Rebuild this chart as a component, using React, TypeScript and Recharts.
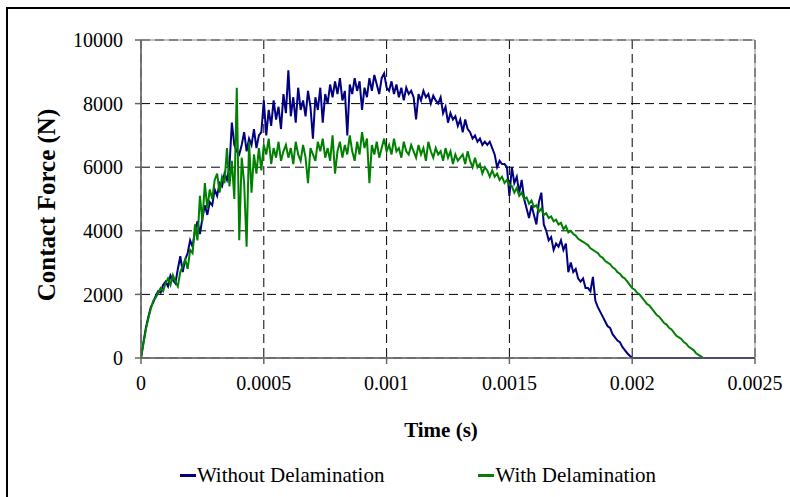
import { LineChart, Line, XAxis, YAxis, CartesianGrid, Legend, ReferenceArea } from "recharts"

const timeStep = 0.00001

const withoutDelamination = [
  0, 500, 950, 1300, 1600, 1750, 1950, 2100, 2050, 2300, 2400,
  2250, 2600, 2450, 2350, 2800, 3200, 2700, 3100, 3300, 3700,
  3500, 4000, 4300, 3900, 4400, 4800, 4500, 4900, 4800, 5300,
  5100, 5500, 5400, 5800, 5600, 6000, 7400, 6700, 6500, 6400,
  6700, 7100, 6500, 6900, 6700, 7200, 6600, 7000, 7100, 8100,
  7000, 7800, 7300, 8100, 7500, 7900, 7200, 8300, 7700, 9050,
  7600, 8200, 7400, 8500, 7800, 8100, 7600, 8400, 7900, 6900,
  8200, 7800, 8500, 7400, 8300, 8000, 8600, 8200, 8700, 8300,
  8800, 8100, 8400, 7000, 8600, 8300, 8800, 8400, 8700, 7800,
  8500, 8200, 8800, 8400, 8900, 8600, 8300, 8800, 8950, 8500,
  8400, 8700, 8300, 8600, 8200, 8500, 8100, 8500, 8300, 8400,
  8200, 7500, 8300, 8100, 8400, 8200, 8300, 8000, 8250, 8100,
  8000, 8200, 7700, 7900, 7400, 7700, 7500, 7600, 7300, 7500,
  7100, 7500, 7200, 7100, 6900, 7000, 6800, 6900, 6700, 6800,
  6700, 6800, 6600, 6400, 6000, 6200, 6100, 6100, 6000, 5100,
  6000, 5500, 5700, 5200, 5600, 5000, 4700, 4400, 4800, 4500,
  4200, 4900, 5200, 4200, 4000, 3700, 3800, 3400, 3600, 3500,
  3700, 3400, 3600, 2700, 3000, 2700, 2800, 2500, 2400, 2500,
  2200, 2200, 2100, 2550, 1800, 1600, 1450, 1300, 1150, 1000,
  950, 750, 650, 550, 500, 350, 250, 150, 70, 0,
]
// blue trace stays on zero to the end of the axis
const tailTime = [0.0025]
const tailForce = [0]

const withDelamination = [
  0, 450, 900, 1250, 1550, 1800, 1900, 2050, 2200, 2100, 2350,
  2500, 2300, 2600, 2400, 2250, 2700, 2900, 3100, 2800, 3400,
  3300, 4200, 3700, 5100, 4300, 5500, 4700, 5300, 5000, 5600,
  5800, 5200, 5700, 5500, 6600, 5400, 6200, 5000, 8500, 3700,
  6300, 5500, 3500, 6800, 5200, 6400, 5800, 6600, 5900, 6700,
  6400, 6900, 6100, 6600, 6300, 6800, 6200, 6500, 6700, 6300,
  6600, 6100, 6800, 6400, 6200, 6700, 6300, 5500, 6600, 6400,
  6200, 6800, 6500, 6900, 6300, 6600, 6200, 7000, 5800, 6500,
  6800, 6300, 6700, 6400, 7000, 6500, 6200, 6800, 6400, 7100,
  6600, 6900, 5500, 6700, 6400, 6800, 6300, 6600, 6900, 6500,
  6700, 6400, 6900, 6500, 6600, 6300, 6800, 6500, 6400, 6700,
  6500, 6300, 6700, 6400, 6600, 6200, 6800, 6500, 6300, 6600,
  6400, 6500, 6200, 6600, 6300, 6500, 6100, 6400, 6200, 6300,
  6400, 6100, 6500, 6200, 6000, 6300, 6000, 6100, 5800, 6000,
  5900, 5700, 5900, 5700, 5800, 5600, 5700, 5500, 5600, 5450,
  5400, 5200, 5350, 5100, 5200, 5000, 5050, 4850, 4950, 4750,
  4800, 4600, 4700, 4500, 4550, 4400, 4450, 4300, 4350, 4200,
  4250, 4050, 4150, 3950, 4000, 3900, 3850, 3750, 3700, 3650,
  3600, 3550, 3450, 3400, 3350, 3300, 3200, 3150, 3050, 3000,
  2950, 2850, 2800, 2700, 2650, 2550, 2500, 2400, 2300, 2200,
  2150, 2050, 2000, 1900, 1800, 1700, 1650, 1550, 1450, 1350,
  1300, 1200, 1100, 1050, 950, 900, 800, 700, 650, 600,
  500, 450, 350, 300, 250, 150, 100, 50, 0,
]

const xTicks = [0, 0.0005, 0.001, 0.0015, 0.002, 0.0025]
const xTickLabels = ["0", "0.0005", "0.001", "0.0015", "0.002", "0.0025"]
const yTicks = [0, 2000, 4000, 6000, 8000, 10000]

const seriesNames = ["Without Delamination", "With Delamination"]
const seriesColors = ["#000080", "#008000"]

const blueData = [
  ...withoutDelamination.map((f, i) => ({ t: i * timeStep, f })),
  ...tailTime.map((t, k) => ({ t, f: tailForce[k] })),
]
const greenData = withDelamination.map((f, i) => ({ t: i * timeStep, f }))

const font = "'Liberation Serif', 'Times New Roman', serif"

function LegendBox() {
  return (
    <div style={{ display: "flex", justifyContent: "center", gap: 94, paddingLeft: 46, fontFamily: font, fontSize: 21, color: "#000" }}>
      {seriesNames.map((name, i) => (
        <div key={name} style={{ display: "flex", alignItems: "center" }}>
          <span style={{ display: "inline-block", width: 16, height: 3, background: seriesColors[i], marginRight: 1 }} />
          <span>{name}</span>
        </div>
      ))}
    </div>
  )
}

export default function App() {
  return (
    <div style={{ position: "absolute", left: 0, top: 0, width: 790, height: 497, overflow: "hidden", background: "#fff" }}>
      <div style={{ position: "absolute", left: 6, top: 7, width: 820, height: 520, border: "2px solid #000" }} />
      <LineChart
        width={790}
        height={497}
        margin={{ top: 40, right: 35, left: 61, bottom: 14 }}
        style={{ position: "absolute", left: 0, top: 0 }}
      >
        <ReferenceArea x1={0} x2={0.0025} y1={0} y2={10000} fill="none" stroke="#888" strokeWidth={1} ifOverflow="visible" />
        <CartesianGrid stroke="#000" strokeDasharray="9 5" />
        <XAxis
          dataKey="t"
          type="number"
          domain={[0, 0.0025]}
          ticks={xTicks}
          tickFormatter={(v, i) => xTickLabels[i]}
          stroke="#666"
          strokeWidth={1.5}
          tickSize={6}
          tickMargin={12}
          height={100}
          allowDataOverflow
          tick={{ fill: "#000", fontSize: 20, fontFamily: font }}
          label={{
            content: () => (
              <text x={441} y={430} textAnchor="middle" dominantBaseline="central" fontFamily={font} fontSize={21} fontWeight="bold" fill="#000">
                Time (s)
              </text>
            ),
          }}
        />
        <YAxis
          type="number"
          domain={[0, 10000]}
          ticks={yTicks}
          stroke="#666"
          strokeWidth={1.5}
          tickSize={6}
          tickMargin={12}
          width={80}
          tick={{ fill: "#000", fontSize: 20, fontFamily: font }}
          label={{
            content: () => (
              <text x={46} y={205} transform="rotate(-90 46 205)" textAnchor="middle" dominantBaseline="central" fontFamily={font} fontSize={25} fontWeight="bold" fill="#000">
                Contact Force (N)
              </text>
            ),
          }}
        />
        <Line data={blueData} dataKey="f" name={seriesNames[0]} stroke={seriesColors[0]} strokeWidth={2} dot={false} isAnimationActive={false} />
        <Line data={greenData} dataKey="f" name={seriesNames[1]} stroke={seriesColors[1]} strokeWidth={2} dot={false} isAnimationActive={false} />
        <Legend content={() => <LegendBox />} wrapperStyle={{ position: "absolute", left: 0, top: 463, width: 790 }} />
      </LineChart>
    </div>
  )
}
